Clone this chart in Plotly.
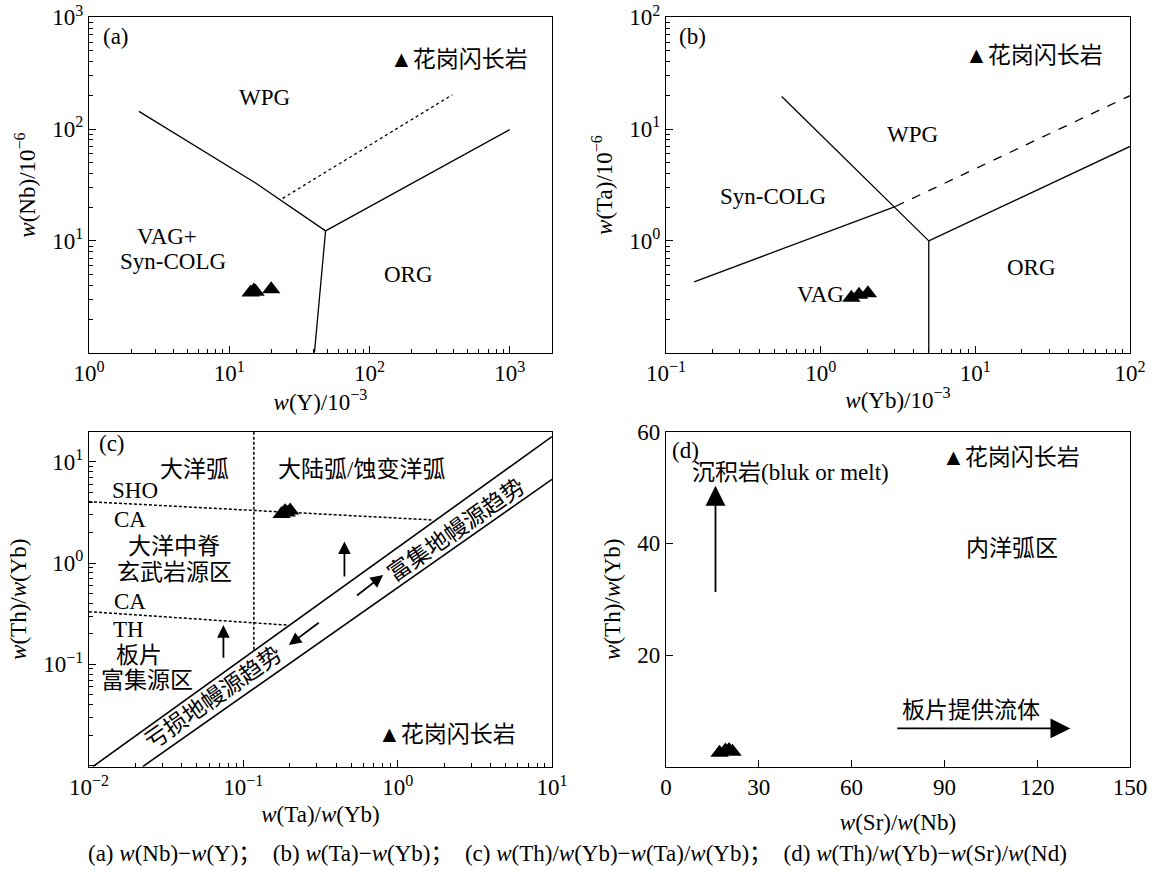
import numpy as np
import plotly.graph_objects as go

# ---------------- data ----------------
# (a) Nb - Y
a_Y = [14.2, 15.0, 15.4, 19.9]
a_Nb = [3.45, 3.6, 3.5, 3.7]
a_wpg_x = [2.27, 15.4, 48.6]
a_wpg_y = [144, 33, 12.3]
a_org_x = [48.6, 1000]
a_org_y = [12.3, 99]
a_vag_x = [48.6, 40.5]
a_vag_y = [12.3, 1.0]
a_dot_x = [24, 390]
a_dot_y = [24, 203]

# (b) Ta - Yb
b_Yb = [1.58, 1.77, 2.02]
b_Ta = [0.31, 0.33, 0.34]
b_l1_x = [0.56, 5.0]
b_l1_y = [19.6, 1.0]
b_l2_x = [5.0, 5.0]
b_l2_y = [1.0, 0.1]
b_l3_x = [5.0, 100]
b_l3_y = [1.0, 7.0]
b_l4_x = [0.152, 3.06]
b_l4_y = [0.43, 2.04]
b_dash_x = [3.06, 100]
b_dash_y = [2.04, 19.9]

# (c) Th/Yb - Ta/Yb
c_TaYb = [0.177, 0.186, 0.191, 0.201]
c_ThYb = [3.05, 3.25, 3.15, 3.3]
c_up_x = [0.0106, 10]
c_up_y = [0.0098, 17.7]
c_lo_x = [0.0223, 10]
c_lo_y = [0.0098, 6.7]
c_vert_x = [0.117, 0.117]
c_vert_y = [19.8, 0.138]
c_h1_x = [0.01, 1.7]
c_h1_y = [4.03, 2.66]
c_h2_x = [0.01, 0.192]
c_h2_y = [0.331, 0.244]

# (d) Th/Yb - Sr/Nb
d_SrNb = [17.3, 19.2, 20.4, 21.5]
d_ThYb = [2.5, 2.9, 3.0, 2.7]

FONT = "Liberation Serif, Noto Sans CJK SC"
FS = 23
BLACK = "black"

fig = go.Figure()

def line(x, y, xa, ya, dash="solid", width=1.3):
    fig.add_trace(go.Scatter(x=x, y=y, mode="lines", xaxis=xa, yaxis=ya,
                             line=dict(color=BLACK, width=width, dash=dash),
                             showlegend=False, hoverinfo="skip"))

def pts(x, y, xa, ya):
    fig.add_trace(go.Scatter(x=x, y=y, mode="markers", xaxis=xa, yaxis=ya,
                             marker=dict(symbol="triangle-up", size=16, color=BLACK),
                             showlegend=False, name="花岗闪长岩"))

# (a)
line(a_wpg_x, a_wpg_y, "x", "y")
line(a_org_x, a_org_y, "x", "y")
line(a_vag_x, a_vag_y, "x", "y")
line(a_dot_x, a_dot_y, "x", "y", dash="dot")
pts(a_Y, a_Nb, "x", "y")
# (b)
line(b_l1_x, b_l1_y, "x2", "y2")
line(b_l2_x, b_l2_y, "x2", "y2")
line(b_l3_x, b_l3_y, "x2", "y2")
line(b_l4_x, b_l4_y, "x2", "y2")
line(b_dash_x, b_dash_y, "x2", "y2", dash="dash")
pts(b_Yb, b_Ta, "x2", "y2")
# (c)
line(c_up_x, c_up_y, "x3", "y3", width=1.6)
line(c_lo_x, c_lo_y, "x3", "y3", width=1.6)
line(c_vert_x, c_vert_y, "x3", "y3", dash="3px,2px", width=1.5)
line(c_h1_x, c_h1_y, "x3", "y3", dash="3px,2px", width=1.5)
line(c_h2_x, c_h2_y, "x3", "y3", dash="3px,2px", width=1.5)
pts(c_TaYb, c_ThYb, "x3", "y3")
# (d)
pts(d_SrNb, d_ThYb, "x4", "y4")


def sup(k):
    return "10<sup>%s</sup>" % (str(k).replace("-", "−"))


def minor_log(lo, hi):
    return [m * 10.0 ** e for e in range(lo, hi) for m in range(2, 10)]


def axis_common(domain, anchor):
    return dict(domain=domain, anchor=anchor, automargin=False,
                ticklabeloverflow="allow",
                showline=True, linecolor=BLACK, linewidth=1.3,
                mirror=True, ticks="inside", ticklen=7, tickwidth=1.2, tickcolor=BLACK,
                showgrid=False, zeroline=False,
                tickfont=dict(family=FONT, size=FS, color=BLACK),
                title_font=dict(family=FONT, size=FS, color=BLACK))


def log_axis(domain, anchor, rng, majors, labelled, minor_lo, minor_hi, title, standoff):
    d = axis_common(domain, anchor)
    d.update(type="log", range=rng, tickmode="array",
             tickvals=[10.0 ** k for k in majors],
             ticktext=[sup(k) if k in labelled else "" for k in majors],
             minor=dict(tickmode="array", tickvals=minor_log(minor_lo, minor_hi),
                        ticks="inside", ticklen=4, tickwidth=1, tickcolor=BLACK),
             title=dict(text=title, standoff=standoff))
    return d

W, H = 1154, 871
def px_x(a, b):
    return [a / W, b / W]
def px_y(top, bot):
    return [1 - bot / H, 1 - top / H]

dom_ax = px_x(89, 552)
dom_bx = px_x(666, 1130)
dom_top = px_y(17.3, 352.7)
dom_bot = px_y(431.7, 766.7)

wt = "<i>w</i>"
layout = dict(
    width=W, height=H, margin=dict(l=0, r=0, t=0, b=0, autoexpand=False),
    paper_bgcolor="white", plot_bgcolor="white", showlegend=False,
    font=dict(family=FONT, size=FS, color=BLACK),
    xaxis=log_axis(dom_ax, "y", [0, 3.301], [0, 1, 2, 3], [0, 1, 2, 3], 0, 4,
                   wt + "(Y)/10<sup>−3</sup>", 6),
    yaxis=log_axis(dom_top, "x", [0, 3], [0, 1, 2, 3], [1, 2, 3], 0, 3,
                   wt + "(Nb)/10<sup>−6</sup>", 10),
    xaxis2=log_axis(dom_bx, "y2", [-1, 2], [-1, 0, 1, 2], [-1, 0, 1, 2], -1, 2,
                    wt + "(Yb)/10<sup>−3</sup>", 6),
    yaxis2=log_axis(dom_top, "x2", [-1, 2], [-1, 0, 1, 2], [0, 1, 2], -1, 2,
                    wt + "(Ta)/10<sup>−6</sup>", 10),
    xaxis3=log_axis(dom_ax, "y3", [-2, 1], [-2, -1, 0, 1], [-2, -1, 0, 1], -2, 1,
                    wt + "(Ta)/" + wt + "(Yb)", 6),
    yaxis3=log_axis(dom_bot, "x3", [-2.01, 1.296], [-2, -1, 0, 1], [-1, 0, 1], -2, 2,
                    wt + "(Th)/" + wt + "(Yb)", 10),
)
xa4 = axis_common(dom_bx, "y4")
xa4.update(range=[0, 150], tickmode="array", tickvals=[0, 30, 60, 90, 120, 150],
           title=dict(text=wt + "(Sr)/" + wt + "(Nb)", standoff=14))
ya4 = axis_common(dom_bot, "x4")
ya4.update(range=[0, 60], tickmode="array", tickvals=[20, 40, 60],
           title=dict(text=wt + "(Th)/" + wt + "(Yb)", standoff=10))
layout["xaxis4"] = xa4
layout["yaxis4"] = ya4
fig.update_layout(**layout)

L = np.log10
ann = []

def txt(x, y, s, xr, yr, xanchor="center", angle=0, size=FS):
    ann.append(dict(x=x, y=y, text=s, xref=xr, yref=yr, showarrow=False,
                    xanchor=xanchor, yanchor="middle", textangle=angle,
                    font=dict(family=FONT, size=size, color=BLACK)))

def arrow(x0, y0, x1, y1, xr, yr, size=1.4, width=1.8):
    ann.append(dict(x=x1, y=y1, ax=x0, ay=y0, xref=xr, yref=yr, axref=xr, ayref=yr,
                    showarrow=True, arrowhead=2, arrowsize=size, arrowwidth=width,
                    arrowcolor=BLACK, text=""))

# (a) labels
txt(L(1.22), L(670), "(a)", "x", "y", "left")
txt(L(135), L(417), "▲花岗闪长岩", "x", "y", "left")
txt(L(17.9), L(190), "WPG", "x", "y")
txt(L(3.58), L(10.9), "VAG+", "x", "y")
txt(L(4.0), L(6.5), "Syn-COLG", "x", "y")
txt(L(191), L(5.05), "ORG", "x", "y")
# (b)
txt(L(0.118), L(67), "(b)", "x2", "y2", "left")
txt(L(8.3), L(46), "▲花岗闪长岩", "x2", "y2", "left")
txt(L(3.9), L(8.9), "WPG", "x2", "y2")
txt(L(0.49), L(2.5), "Syn-COLG", "x2", "y2")
txt(L(1.0), L(0.33), "VAG", "x2", "y2")
txt(L(23), L(0.574), "ORG", "x2", "y2")
# (c)
txt(L(0.0113), L(15.2), "(c)", "x3", "y3", "left")
txt(L(0.0482), L(8.28), "大洋弧", "x3", "y3")
txt(L(0.579), L(8.28), "大陆弧/蚀变洋弧", "x3", "y3")
txt(L(0.02), L(5.25), "SHO", "x3", "y3")
txt(L(0.0184), L(2.70), "CA", "x3", "y3")
txt(L(0.0356), L(1.47), "大洋中脊", "x3", "y3")
txt(L(0.0356), L(0.803), "玄武岩源区", "x3", "y3")
txt(L(0.0184), L(0.415), "CA", "x3", "y3")
txt(L(0.0179), L(0.221), "TH", "x3", "y3")
txt(L(0.0211), L(0.1236), "板片", "x3", "y3")
txt(L(0.0236), L(0.070), "富集源区", "x3", "y3")
txt(L(0.72), L(0.0201), "▲花岗闪长岩", "x3", "y3", "left")
txt(L(2.39), L(2.08), "富集地幔源趋势", "x3", "y3", angle=-35)
txt(L(0.0636), L(0.0461), "亏损地幔源趋势", "x3", "y3", angle=-35)
arrow(L(0.452), L(0.71), L(0.452), L(1.63), "x3", "y3")
arrow(L(0.0743), L(0.112), L(0.0743), L(0.244), "x3", "y3")
arrow(L(0.533), L(0.466), L(0.805), L(0.76), "x3", "y3")
arrow(L(0.315), L(0.264), L(0.197), L(0.155), "x3", "y3")
# (d)
txt(1.2, 56.6, "(d)", "x4", "y4", "left")
txt(88.5, 55.4, "▲花岗闪长岩", "x4", "y4", "left")
txt(7.7, 52.7, "沉积岩(bluk or melt)", "x4", "y4", "left")
txt(111.7, 39.0, "内洋弧区", "x4", "y4")
txt(98.6, 10.1, "板片提供流体", "x4", "y4")
arrow(16.0, 31.0, 16.0, 50.3, "x4", "y4", size=2.2, width=1.8)
arrow(74.3, 6.85, 130.7, 6.85, "x4", "y4", size=2.2, width=1.8)

# caption
GAP = "；&nbsp;&nbsp;"
ann.append(dict(x=577 / W, y=1 - 853 / H, xref="paper", yref="paper",
                showarrow=False, xanchor="center", yanchor="middle",
                text="(a) " + wt + "(Nb)−" + wt + "(Y)" + GAP + "(b) " + wt + "(Ta)−" + wt
                     + "(Yb)" + GAP + "(c) " + wt + "(Th)/" + wt + "(Yb)−" + wt + "(Ta)/" + wt
                     + "(Yb)" + GAP + "(d) " + wt + "(Th)/" + wt + "(Yb)−" + wt + "(Sr)/" + wt
                     + "(Nd)",
                font=dict(family=FONT, size=23, color=BLACK)))

fig.update_layout(annotations=ann)
fig.write_html("out.html", config={"displayModeBar": False},
               post_script="document.body.style.margin='0px';document.body.style.padding='0px';")
